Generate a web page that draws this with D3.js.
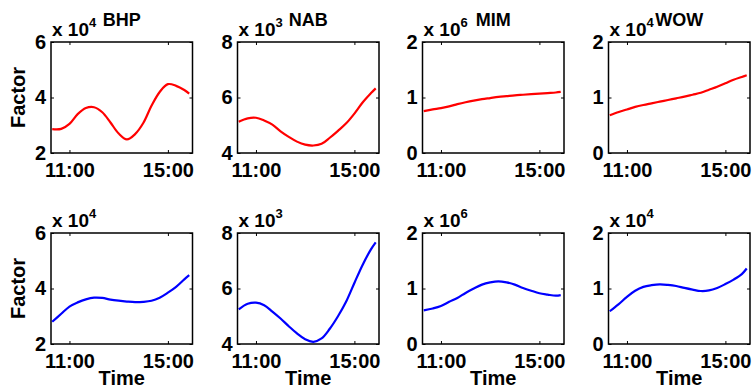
<!DOCTYPE html>
<html>
<head>
<meta charset="utf-8">
<script src="https://cdn.jsdelivr.net/npm/d3@7"></script>
<style>
  body { margin: 0; background: #fff; }
  text { font-family: "Liberation Sans", Arial, Helvetica, sans-serif; font-weight: bold; fill: #000; }
</style>
</head>
<body>
<div class="chart"></div>
<script>
// sample times (shared by every series)
var times = ["10:18", "10:40", "11:00", "11:20", "11:40", "12:00", "12:20", "12:40", "13:00",
  "13:20", "13:40", "14:00", "14:20", "14:40", "15:00", "15:20", "15:40", "15:52"];

var stocks = ["BHP", "NAB", "MIM", "WOW"];
var exponents = [4, 3, 6, 4];
var yDomains = [[2, 6], [4, 8], [0, 2], [0, 2]];
var yTicks = [[2, 4, 6], [4, 6, 8], [0, 1, 2], [0, 1, 2]];
var xTicks = ["11:00", "15:00"];
var xLimits = ["10:15", "16:00"];

// top row (red)
var bhpRed = [2.86, 2.87, 3.05, 3.40, 3.62, 3.65, 3.47, 3.10, 2.70, 2.49, 2.68, 3.08, 3.70, 4.20, 4.48, 4.42, 4.27, 4.14];
var nabRed = [5.13, 5.25, 5.27, 5.17, 5.02, 4.78, 4.58, 4.41, 4.30, 4.27, 4.33, 4.55, 4.80, 5.07, 5.42, 5.82, 6.15, 6.33];
var mimRed = [0.755, 0.785, 0.81, 0.84, 0.88, 0.915, 0.945, 0.97, 0.99, 1.01, 1.025, 1.04, 1.05, 1.06, 1.07, 1.08, 1.09, 1.10];
var wowRed = [0.68, 0.74, 0.785, 0.83, 0.865, 0.895, 0.925, 0.955, 0.985, 1.015, 1.05, 1.085, 1.14, 1.195, 1.255, 1.32, 1.37, 1.40];

// bottom row (blue)
var bhpBlue = [2.80, 3.09, 3.35, 3.50, 3.61, 3.67, 3.66, 3.60, 3.56, 3.53, 3.51, 3.52, 3.56, 3.67, 3.85, 4.06, 4.33, 4.48];
var nabBlue = [5.25, 5.45, 5.49, 5.40, 5.17, 4.92, 4.64, 4.38, 4.17, 4.08, 4.20, 4.55, 5.00, 5.53, 6.20, 6.85, 7.40, 7.66];
var mimBlue = [0.605, 0.64, 0.685, 0.76, 0.83, 0.92, 1.00, 1.07, 1.11, 1.13, 1.11, 1.07, 1.01, 0.96, 0.915, 0.89, 0.87, 0.88];
var wowBlue = [0.59, 0.72, 0.85, 0.96, 1.03, 1.06, 1.075, 1.065, 1.045, 1.01, 0.98, 0.955, 0.965, 1.01, 1.08, 1.16, 1.26, 1.36];

var rows = [
  { color: "#ff0000", series: [bhpRed, nabRed, mimRed, wowRed] },
  { color: "#0000ff", series: [bhpBlue, nabBlue, mimBlue, wowBlue] }
];

var width = 755, height = 388;
var lefts = [51, 237.5, 422.5, 608.5];
var tops = [42, 233];
var w = 141.5, h = 111;

var toDate = s => { var p = s.split(":"); return new Date(2013, 0, 1, +p[0], +p[1]); };

var svg = d3.select(".chart")
  .append("svg")
  .attr("width", width)
  .attr("height", height);

rows.forEach((row, r) => {
  row.series.forEach((values, c) => {
    var g = svg.append("g")
      .attr("transform", `translate(${lefts[c]},${tops[r]})`);

    var x = d3.scaleTime()
      .domain(xLimits.map(toDate))
      .range([0, w]);

    var y = d3.scaleLinear()
      .domain(yDomains[c])
      .range([h, 0]);

    // bottom axis with labels
    g.append("g")
      .attr("transform", `translate(0,${h})`)
      .call(d3.axisBottom(x).tickValues(xTicks.map(toDate))
        .tickFormat(d3.timeFormat("%H:%M")).tickSize(-3).tickPadding(10))
      .call(a => a.select(".domain").remove())
      .selectAll("text").style("font-size", "20px");

    // top axis, ticks only
    g.append("g")
      .call(d3.axisTop(x).tickValues(xTicks.map(toDate)).tickFormat("").tickSize(-3))
      .call(a => a.select(".domain").remove());

    // left axis with labels
    g.append("g")
      .call(d3.axisLeft(y).tickValues(yTicks[c]).tickFormat(d3.format("d")).tickSize(-3).tickPadding(5))
      .call(a => a.select(".domain").remove())
      .selectAll("text").style("font-size", "20px");

    // right axis, ticks only
    g.append("g")
      .attr("transform", `translate(${w},0)`)
      .call(d3.axisRight(y).tickValues(yTicks[c]).tickFormat("").tickSize(-3))
      .call(a => a.select(".domain").remove());

    g.append("rect")
      .attr("width", w)
      .attr("height", h)
      .attr("fill", "none")
      .attr("stroke", "#000")
      .attr("stroke-width", 1.5);

    g.append("path")
      .datum(values)
      .attr("fill", "none")
      .attr("stroke", row.color)
      .attr("stroke-width", 2.2)
      .attr("stroke-linejoin", "round")
      .attr("d", d3.line()
        .x((d, i) => x(toDate(times[i])))
        .y(d => y(d))
        .curve(d3.curveCatmullRom));

    // exponent label
    var ex = g.append("text")
      .attr("x", 1)
      .attr("y", -6)
      .style("font-size", "19px");
    ex.append("tspan").text("x 10");
    ex.append("tspan").attr("dy", -9).style("font-size", "13px").text(exponents[c]);

    if (r == 0) {
      g.append("text")
        .attr("x", w / 2)
        .attr("y", -16)
        .attr("text-anchor", "middle")
        .style("font-size", "18px")
        .text(stocks[c]);
    }

    if (r == 1) {
      g.append("text")
        .attr("x", w / 2)
        .attr("y", h + 41)
        .attr("text-anchor", "middle")
        .style("font-size", "20px")
        .text("Time");
    }

    if (c == 0) {
      g.append("text")
        .attr("transform", `translate(-26,${h / 2}) rotate(-90)`)
        .attr("text-anchor", "middle")
        .style("font-size", "20px")
        .text("Factor");
    }
  });
});
</script>
</body>
</html>
